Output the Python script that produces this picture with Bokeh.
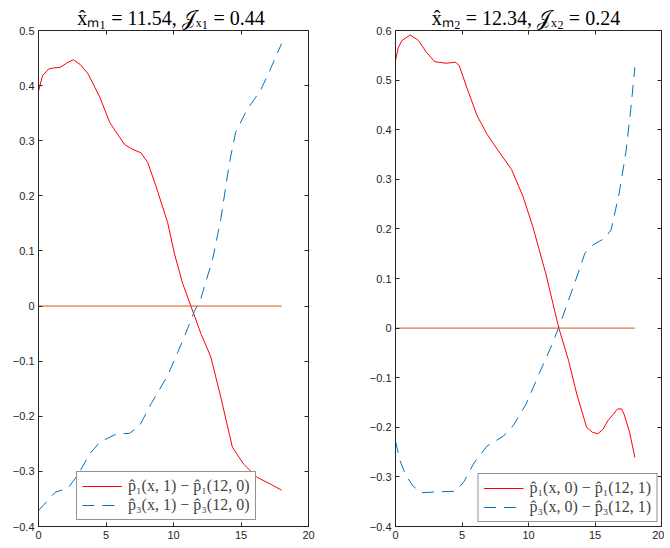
from bokeh.plotting import figure
from bokeh.layouts import row
from bokeh.models import LinearAxis, FixedTicker, CustomJSTickFormatter
from bokeh.embed import file_html
from bokeh.resources import INLINE

# ---------------- data ----------------
# Left panel: p1(x,1)-p1(12,0)
l_red_x = [0, 0.3, 0.74, 1.1, 1.6, 2.1, 2.58, 3.1, 3.68, 4.54, 5.28, 6.38, 7.0, 7.6, 8.1, 8.71,
           9.57, 10.06, 10.68, 11.29, 12.03, 12.76, 13.5, 14.36, 15.2, 16.2, 17.18, 18.0]
l_red_y = [0.39, 0.418, 0.43, 0.432, 0.433, 0.441, 0.447, 0.438, 0.421, 0.379, 0.333, 0.293,
           0.284, 0.278, 0.26, 0.217, 0.151, 0.096, 0.041, 0.0, -0.05, -0.092, -0.165, -0.256,
           -0.287, -0.311, -0.323, -0.334]
# Left panel: p3(x,1)-p3(12,0)
l_blue_x = [0, 1.23, 2.2, 2.95, 3.8, 4.54, 5.77, 6.75, 7.49, 8.35, 9.57, 10.8, 11.54, 12.03,
            12.89, 13.5, 13.99, 14.24, 14.6, 15.46, 16.44, 17.18, 18.0]
l_blue_y = [-0.371, -0.338, -0.330, -0.305, -0.268, -0.247, -0.232, -0.231, -0.217, -0.177,
            -0.126, -0.056, -0.010, 0.014, 0.084, 0.157, 0.236, 0.272, 0.315, 0.357, 0.391,
            0.430, 0.476]
# Right panel: p1(x,0)-p1(12,1)
r_red_x = [0, 0.2, 0.49, 1.1, 1.72, 2.33, 2.95, 3.8, 4.54, 4.79, 5.4, 6.14, 6.88, 7.74, 8.72,
           9.58, 10.32, 11.3, 12.28, 13.01, 13.63, 14.37, 14.8, 15.22, 15.6, 15.96, 16.7,
           17.0, 17.19, 17.6, 18.0]
r_red_y = [0.539, 0.565, 0.580, 0.591, 0.580, 0.556, 0.537, 0.534, 0.536, 0.529, 0.482, 0.428,
           0.391, 0.357, 0.320, 0.266, 0.205, 0.110, 0.0, -0.065, -0.133, -0.200, -0.210,
           -0.213, -0.204, -0.187, -0.163, -0.163, -0.174, -0.210, -0.261]
# Right panel: p3(x,0)-p3(12,1)
r_blue_x = [0, 0.35, 0.74, 1.3, 1.96, 3.19, 4.54, 5.16, 5.9, 6.88, 8.1, 8.84, 9.82, 10.8, 11.79,
            12.53, 13.63, 14.24, 14.86, 15.72, 16.21, 16.82, 17.32, 17.69, 18.0]
r_blue_y = [-0.228, -0.268, -0.295, -0.318, -0.332, -0.330, -0.329, -0.309, -0.272, -0.238,
            -0.218, -0.197, -0.153, -0.092, -0.032, 0.020, 0.103, 0.151, 0.168, 0.181, 0.198,
            0.272, 0.354, 0.441, 0.526]
zero_x = [0, 18]
zero_y = [0, 0]

x_ticks = [0, 5, 10, 15, 20]
l_y_ticks = [-0.4, -0.3, -0.2, -0.1, 0, 0.1, 0.2, 0.3, 0.4, 0.5]
r_y_ticks = [-0.4, -0.3, -0.2, -0.1, 0, 0.1, 0.2, 0.3, 0.4, 0.5, 0.6]

l_title = "x\u0302\u2098\u2081 = 11.54,  \U0001D4A5\u2093\u2081 = 0.44"
r_title = "x\u0302\u2098\u2082 = 12.34,  \U0001D4A5\u2093\u2082 = 0.24"
l_leg = ["p\u0302\u2081(x, 1) \u2212 p\u0302\u2081(12, 0)", "p\u0302\u2083(x, 1) \u2212 p\u0302\u2083(12, 0)"]
r_leg = ["p\u0302\u2081(x, 0) \u2212 p\u0302\u2081(12, 1)", "p\u0302\u2083(x, 0) \u2212 p\u0302\u2083(12, 1)"]

RED = "#ff0000"
BLUE = "#0072bd"
ORANGE = "#d95319"
AX = "#262626"


def style_axis(ax, ticks, labels=True):
    ax.ticker = FixedTicker(ticks=ticks)
    ax.axis_line_color = AX
    ax.major_tick_line_color = AX
    ax.major_tick_in = 4
    ax.major_tick_out = 0
    ax.minor_tick_line_color = None
    ax.major_label_text_font = "Liberation Sans"
    ax.major_label_text_font_size = "11px"
    ax.major_label_text_color = AX
    ax.major_label_standoff = 4
    if not labels:
        ax.formatter = CustomJSTickFormatter(code="return ''")
        ax.major_label_standoff = 0
        ax.major_label_text_font_size = "1px"


def make(width, ymin, ymax, yticks, title, rx, ry, bx, by, labels, loc, bl, br):
    p = figure(width=width, height=541, x_range=(0, 20), y_range=(ymin, ymax),
               output_backend="svg", toolbar_location=None,
               min_border_left=bl, min_border_right=br, min_border_top=30,
               min_border_bottom=14)
    p.grid.visible = False
    p.outline_line_color = AX
    p.title.text = title
    p.title.align = "center"
    p.title.text_font = "Liberation Serif"
    p.title.text_font_size = "20px"
    p.title.text_font_style = "normal"
    p.title.text_color = "#000000"
    p.title.standoff = 3
    style_axis(p.xaxis[0], x_ticks)
    style_axis(p.yaxis[0], yticks)
    p.yaxis[0].major_label_overrides = {0: "0"}
    top = LinearAxis()
    style_axis(top, x_ticks, labels=False)
    p.add_layout(top, "above")
    right = LinearAxis()
    style_axis(right, yticks, labels=False)
    p.add_layout(right, "right")

    p.line(rx, ry, line_color=RED, line_width=1, legend_label=labels[0])
    p.line(bx, by, line_color=BLUE, line_width=1, line_dash="12 8", legend_label=labels[1])
    p.line(zero_x, zero_y, line_color=ORANGE, line_width=1)

    lg = p.legend[0]
    lg.location = loc
    lg.border_line_color = AX
    lg.border_line_width = 1
    lg.background_fill_color = "white"
    lg.background_fill_alpha = 1
    lg.label_text_font = "Liberation Serif"
    lg.label_text_font_size = "16px"
    lg.glyph_width = 40
    lg.glyph_height = 18
    lg.label_height = 18
    lg.label_standoff = 6
    lg.spacing = 1
    lg.padding = 5
    lg.margin = 4
    return p


left = make(358, -0.4, 0.5, l_y_ticks, l_title, l_red_x, l_red_y, l_blue_x, l_blue_y,
            l_leg, (38, 6), 38, 50)
right = make(306, -0.4, 0.6, r_y_ticks, r_title, r_red_x, r_red_y, r_blue_x, r_blue_y,
             r_leg, "bottom_right", 37, 3)

layout = row(left, right)
open("out.html", "w").write(file_html(layout, INLINE))
